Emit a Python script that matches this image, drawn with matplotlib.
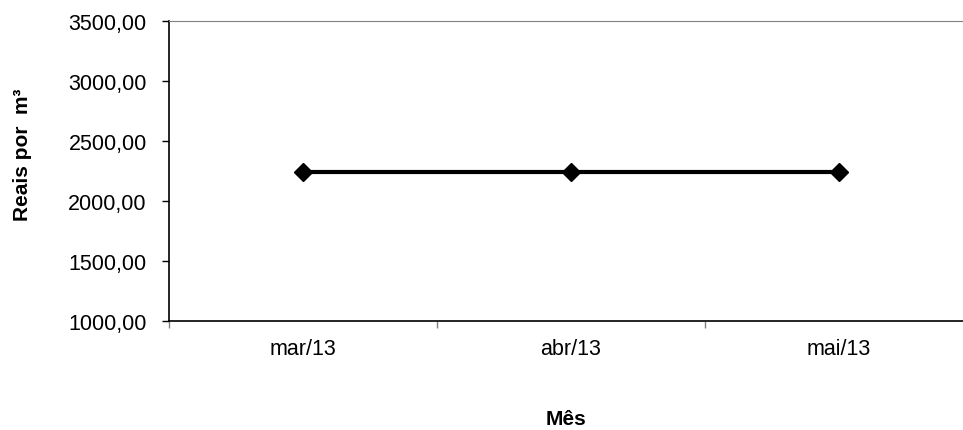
import matplotlib.pyplot as plt
from matplotlib.ticker import FuncFormatter

months = ['mar/13', 'abr/13', 'mai/13']
prices = [2240, 2240, 2240]
y_ticks = [1000, 1500, 2000, 2500, 3000, 3500]

plt.rcParams['font.family'] = ['Liberation Sans', 'DejaVu Sans']

fig = plt.figure(figsize=(9.63, 4.31), dpi=100)
ax = fig.add_axes([169 / 963, 1 - 322 / 431, 1 - 169 / 963, 300 / 431])

x = list(range(len(months)))
ax.plot(x, prices, color='black', lw=3, marker='D', ms=9.5, zorder=3)

ax.set_ylim(1000, 3500)
ax.set_yticks(y_ticks)
ax.yaxis.set_major_formatter(FuncFormatter(lambda v, p: f'{v:.2f}'.replace('.', ',')))
ax.set_xlim(-0.5, 2.463)

# category labels centred, tick marks on bin edges
ax.set_xticks(x)
ax.set_xticklabels(months)
ax.tick_params(axis='x', which='major', length=0, pad=12, labelsize=15.5)
ax.set_xticks([-0.5, 0.5, 1.5], minor=True)
ax.tick_params(axis='x', which='minor', length=5, color='#808080', width=1)
ax.tick_params(axis='y', length=5, width=1, labelsize=15.5, pad=11)

ax.spines['right'].set_visible(False)
ax.spines['top'].set_color('#808080')
ax.spines['left'].set_linewidth(1.2)
ax.spines['bottom'].set_linewidth(1.2)

ax.set_ylabel('Reais por  m³', fontsize=15, fontweight='bold')
ax.yaxis.set_label_coords(-0.173, 0.557)
ax.set_xlabel('Mês', fontsize=15, fontweight='bold', labelpad=36)

fig.savefig('out.png', dpi=100)
